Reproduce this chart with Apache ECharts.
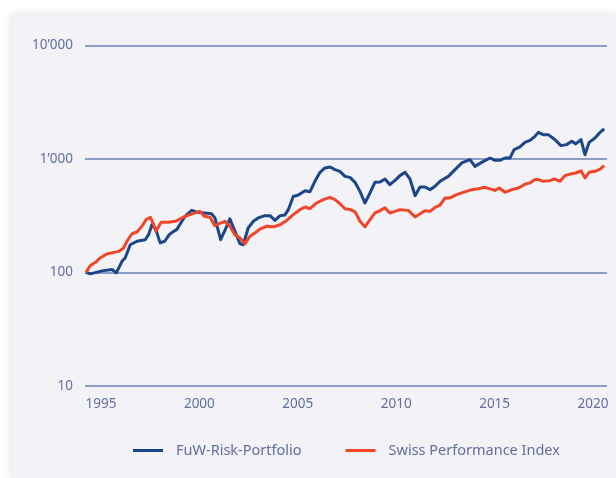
<!DOCTYPE html>
<html>
<head>
<meta charset="utf-8">
<script src="https://cdn.jsdelivr.net/npm/echarts@6/dist/echarts.min.js"></script>
<style>
  html, body { margin: 0; padding: 0; background: #ffffff; }
  #panel {
    position: absolute; left: 11px; top: 14px; width: 605px; height: 464px;
    background: #f2f2f7; box-shadow: 0 0 8px rgba(0, 0, 0, 0.12);
  }
  #main { position: absolute; left: 0; top: 0; width: 616px; height: 478px; }
</style>
</head>
<body>
<div id="panel"></div>
<div id="main"></div>
<script>
// FuW-Risk-Portfolio (Jahr, indexiert auf 100)
var fuwYears = [1994.24, 1994.46, 1995.05, 1995.56, 1995.78, 1996.07, 1996.23, 1996.49, 1996.83, 1997.25,
    1997.42, 1997.59, 1997.79, 1998.01, 1998.24, 1998.47, 1998.69, 1998.85, 1999.27, 1999.61,
    1999.94, 2000.28, 2000.62, 2000.79, 2001.08, 2001.35, 2001.55, 2001.81, 2002.06, 2002.23,
    2002.48, 2002.74, 2002.99, 2003.33, 2003.42, 2003.59, 2003.84, 2004.10, 2004.35, 2004.52,
    2004.77, 2005.03, 2005.37, 2005.62, 2005.87, 2006.13, 2006.38, 2006.64, 2006.89, 2007.14,
    2007.40, 2007.65, 2007.91, 2008.16, 2008.41, 2008.67, 2008.92, 2009.18, 2009.43, 2009.68,
    2009.94, 2010.19, 2010.45, 2010.70, 2010.96, 2011.21, 2011.46, 2011.72, 2011.97, 2012.23,
    2012.65, 2012.99, 2013.33, 2013.75, 2014.00, 2014.34, 2014.77, 2015.02, 2015.27, 2015.53,
    2015.78, 2015.99, 2016.29, 2016.54, 2016.80, 2017.05, 2017.22, 2017.47, 2017.73, 2018.07,
    2018.37, 2018.66, 2018.92, 2019.12, 2019.39, 2019.59, 2019.80, 2020.10, 2020.36, 2020.57];
var fuwValues = [100, 97, 103, 106, 99, 125, 134, 175, 188, 194,
    215, 263, 238, 182, 188, 215, 230, 238, 312, 352,
    338, 334, 329, 302, 194, 246, 296, 230, 179, 175,
    246, 282, 302, 316, 323, 316, 287, 316, 321, 357,
    467, 481, 525, 514, 635, 762, 833, 850, 805, 778,
    702, 688, 622, 518, 409, 501, 622, 627, 666, 593,
    648, 713, 762, 666, 474, 566, 566, 536, 574, 635,
    702, 805, 922, 986, 860, 933, 1020, 972, 972, 1020,
    1020, 1209, 1276, 1400, 1458, 1583, 1717, 1638, 1638, 1479,
    1311, 1338, 1430, 1359, 1479, 1091, 1400, 1530, 1717, 1840];

// Swiss Performance Index
var spiYears = [1994.24, 1994.46, 1994.71, 1994.96, 1995.30, 1995.65, 1995.90, 1996.15, 1996.32, 1996.58,
    1996.83, 1997.08, 1997.30, 1997.51, 1997.68, 1997.79, 1998.06, 1998.44, 1998.78, 1999.18,
    1999.52, 2000.03, 2000.25, 2000.54, 2000.79, 2001.01, 2001.30, 2001.55, 2001.81, 2002.06,
    2002.32, 2002.57, 2002.82, 2003.08, 2003.42, 2003.76, 2004.10, 2004.44, 2004.77, 2005.11,
    2005.37, 2005.62, 2005.96, 2006.30, 2006.64, 2006.89, 2007.14, 2007.40, 2007.65, 2007.91,
    2008.16, 2008.41, 2008.67, 2008.92, 2009.18, 2009.43, 2009.68, 2009.94, 2010.19, 2010.62,
    2010.96, 2011.21, 2011.46, 2011.72, 2011.97, 2012.23, 2012.48, 2012.74, 2013.07, 2013.41,
    2013.84, 2014.17, 2014.51, 2014.77, 2015.02, 2015.24, 2015.53, 2015.87, 2016.21, 2016.54,
    2016.80, 2017.05, 2017.22, 2017.47, 2017.81, 2018.03, 2018.32, 2018.58, 2018.92, 2019.12,
    2019.39, 2019.59, 2019.80, 2020.10, 2020.36, 2020.57];
var spiValues = [100, 115, 122, 134, 145, 150, 153, 164, 188, 219,
    227, 255, 292, 306, 263, 230, 276, 276, 282, 306,
    323, 345, 312, 306, 258, 269, 282, 255, 215, 201,
    179, 208, 222, 241, 255, 252, 263, 287, 323, 357,
    377, 364, 409, 438, 459, 438, 403, 364, 359, 342,
    282, 252, 292, 334, 350, 370, 334, 345, 357, 352,
    308, 329, 350, 345, 374, 391, 453, 453, 484, 508,
    536, 547, 562, 544, 528, 555, 508, 536, 555, 599,
    615, 658, 658, 635, 644, 666, 635, 713, 742, 752,
    787, 681, 762, 778, 814, 872];

var yearTicks = [1995, 2000, 2005, 2010, 2015, 2020];
var seriesNames = ['FuW-Risk-Portfolio', 'Swiss Performance Index'];

var textColor = '#5f6f9f';
var myChart = echarts.init(document.getElementById('main'));

function pairs(xs, ys) {
    var out = [];
    xs.forEach(function (x, i) {
        out.push([x, ys[i]]);
    });
    return out;
}

// Tausendertrennzeichen wie im Original: 10’000
function fmtNum(v) {
    return String(Math.round(v)).replace(/\B(?=(\d{3})+(?!\d))/g, '\u2019');
}

var option = {
    backgroundColor: 'transparent',
    animation: false,
    textStyle: { fontFamily: 'Noto Sans' },
    grid: { left: 85, right: 9, top: 45.6, bottom: 92.3 },
    legend: {
        data: seriesNames,
        top: 438,
        left: 128,
        icon: 'rect',
        itemWidth: 30,
        itemHeight: 3,
        itemGap: 44,
        textStyle: { color: textColor, fontSize: 14.5, padding: [0, 0, 0, 8] }
    },
    xAxis: {
        type: 'value',
        min: 1994.19,
        max: 2020.71,
        axisLine: { show: false },
        axisTick: { show: false },
        splitLine: { show: false },
        axisLabel: {
            customValues: yearTicks,
            color: textColor,
            fontSize: 13.5,
            margin: 11,
            formatter: function (v) { return String(v); }
        }
    },
    yAxis: {
        type: 'log',
        logBase: 10,
        min: 10,
        max: 10000,
        axisLine: { show: false },
        axisTick: { show: false },
        minorSplitLine: { show: false },
        splitLine: { show: true, lineStyle: { color: '#6b82b4', width: 1.5 } },
        axisLabel: {
            color: textColor,
            fontSize: 13.5,
            margin: 12,
            formatter: fmtNum
        }
    },
    series: [
        {
            name: seriesNames[0],
            type: 'line',
            data: pairs(fuwYears, fuwValues),
            symbol: 'none',
            color: '#1b4689',
            lineStyle: { width: 3, color: '#1b4689', join: 'round' }
        },
        {
            name: seriesNames[1],
            type: 'line',
            data: pairs(spiYears, spiValues),
            symbol: 'none',
            color: '#f1452a',
            lineStyle: { width: 3, color: '#f1452a', join: 'round' }
        }
    ]
};
myChart.setOption(option);
</script>
</body>
</html>
